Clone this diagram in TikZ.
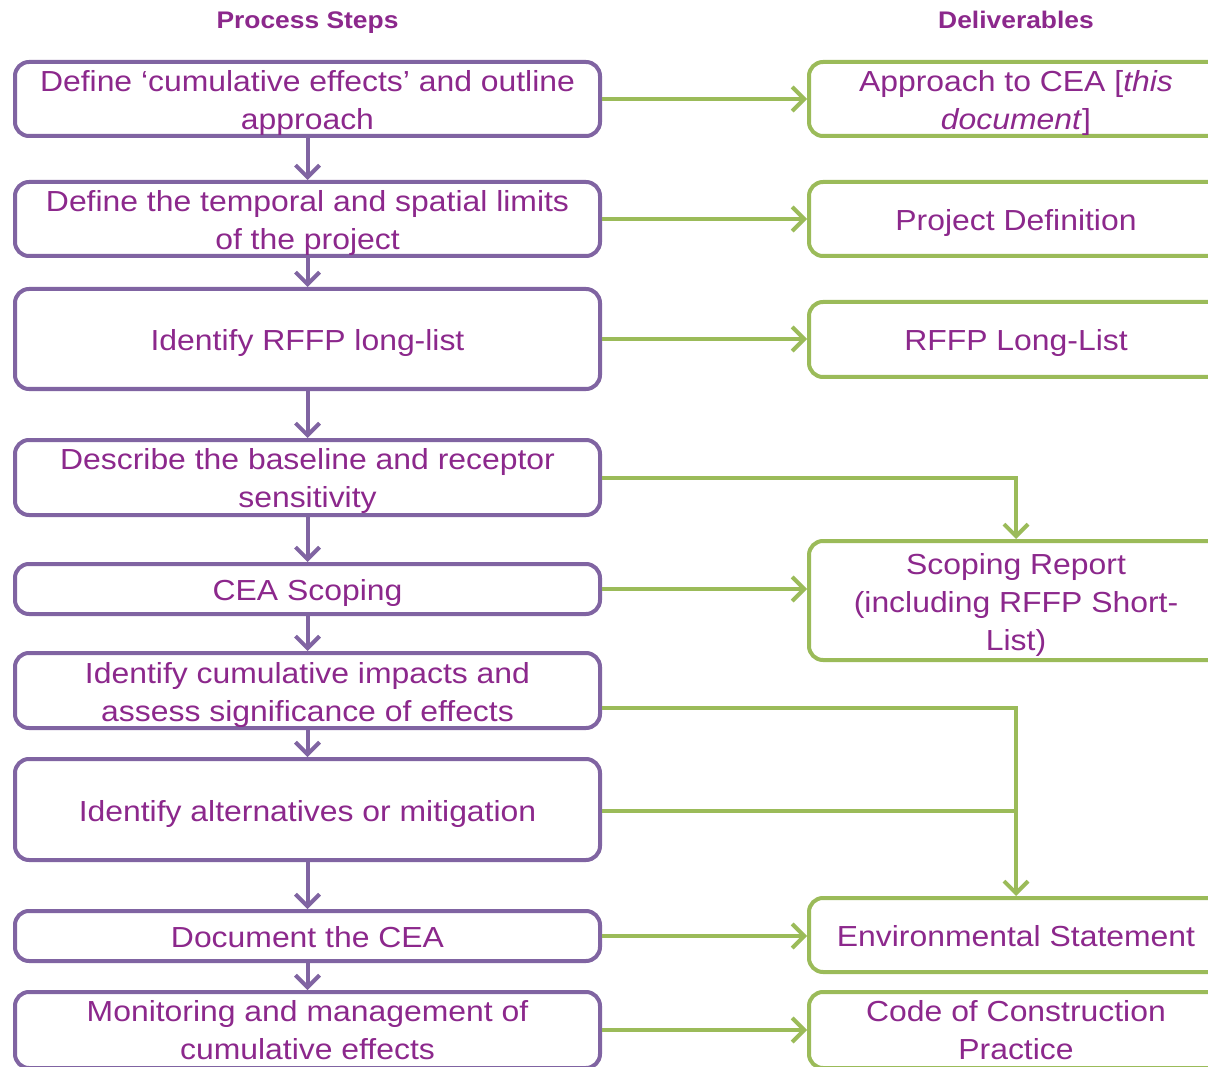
\documentclass[tikz,border=0pt]{standalone}
\usepackage{fontspec}
\setmainfont{Liberation Sans}[FakeStretch=1.1]
\usetikzlibrary{arrows.meta}
\definecolor{ptxt}{HTML}{8C288C}
\definecolor{pbox}{HTML}{8064A2}
\definecolor{gbox}{HTML}{9BBB59}
\begin{document}
\begin{tikzpicture}[x=1pt,y=-1pt,
 stepbox/.style={draw=pbox, line width=4pt, rounded corners=14pt, fill=white, minimum width=585pt, inner sep=0pt},
 delbox/.style={draw=gbox, line width=4pt, rounded corners=14pt, fill=white, minimum width=414pt, inner sep=0pt},
 btext/.style={text=ptxt, align=center, font=\fontsize{29}{38}\selectfont, inner sep=0pt, yshift=-4pt},
 parrow/.style={draw=pbox, line width=4pt, -{Straight Barb[length=12pt,width=24pt]}},
 garrow/.style={draw=gbox, line width=4pt, -{Straight Barb[length=12pt,width=24pt]}},
 gline/.style={draw=gbox, line width=4pt},
 head/.style={text=ptxt, font=\fontsize{24}{28}\selectfont\bfseries, anchor=base}]
\useasboundingbox (0,0) rectangle (1208,1067);
\fill[white] (0,0) rectangle (1208,1067);
\clip (0,0) rectangle (1208,1067);

\node[head] (h1) at (307.5,29) {Process Steps};
\node[head] (h2) at (1016,29) {Deliverables};

\node[stepbox, minimum height=74pt] (b1) at (307.5,99) {};
\node[stepbox, minimum height=74pt] (b2) at (307.5,219) {};
\node[stepbox, minimum height=100pt] (b3) at (307.5,339) {};
\node[stepbox, minimum height=75pt] (b4) at (307.5,477.5) {};
\node[stepbox, minimum height=50pt] (b5) at (307.5,589) {};
\node[stepbox, minimum height=75pt] (b6) at (307.5,690.5) {};
\node[stepbox, minimum height=101pt] (b7) at (307.5,809.5) {};
\node[stepbox, minimum height=50pt] (b8) at (307.5,936) {};
\node[stepbox, minimum height=76pt] (b9) at (307.5,1030) {};

\node[delbox, minimum height=74pt] (r1) at (1016,99) {};
\node[delbox, minimum height=74pt] (r2) at (1016,219) {};
\node[delbox, minimum height=75pt] (r3) at (1016,339.5) {};
\node[delbox, minimum height=119pt] (r4) at (1016,600.5) {};
\node[delbox, minimum height=74pt] (r5) at (1016,935) {};
\node[delbox, minimum height=76pt] (r6) at (1016,1030) {};

\node[btext] (tb1) at (b1.center) {Define ‘cumulative effects’ and outline\\approach};
\node[btext] (tb2) at (b2.center) {Define the temporal and spatial limits\\of the project};
\node[btext] (tb3) at (b3.center) {Identify RFFP long-list};
\node[btext] (tb4) at (b4.center) {Describe the baseline and receptor\\sensitivity};
\node[btext] (tb5) at (b5.center) {CEA Scoping};
\node[btext] (tb6) at (b6.center) {Identify cumulative impacts and\\assess significance of effects};
\node[btext] (tb7) at (b7.center) {Identify alternatives or mitigation};
\node[btext, yshift=3pt] (tb8) at (b8.center) {Document the CEA};
\node[btext, yshift=4pt] (tb9) at (b9.center) {Monitoring and management of\\cumulative effects};

\node[btext] (tr1) at (r1.center) {Approach to CEA [\textit{this}\\\textit{document}]};
\node[btext] (tr2) at (r2.center) {Project Definition};
\node[btext] (tr3) at (r3.center) {RFFP Long-List};
\node[btext] (tr4) at (r4.center) {Scoping Report\\(including RFFP Short-\\List)};
\node[btext, yshift=3pt] (tr5) at (r5.center) {Environmental Statement};
\node[btext, yshift=4pt] (tr6) at (r6.center) {Code of Construction\\Practice};

\draw[parrow] (b1.south) -- (b2.north);
\draw[parrow] (b2.south) -- (b3.north);
\draw[parrow] (b3.south) -- (b4.north);
\draw[parrow] (b4.south) -- (b5.north);
\draw[parrow] (b5.south) -- (b6.north);
\draw[parrow] (b6.south) -- (b7.north);
\draw[parrow] (b7.south) -- (b8.north);
\draw[parrow] (b8.south) -- (b9.north);

\draw[garrow] (b1.east) -- (r1.west);
\draw[garrow] (b2.east) -- (r2.west);
\draw[garrow] (b3.east) -- (b3.east -| r3.west);
\draw[garrow] (b4.east) -| (r4.north);
\draw[garrow] (b5.east) -- (b5.east -| r4.west);
\draw[garrow] ([yshift=-17pt]b6.east) -| (r5.north);
\draw[gline] ([yshift=-1pt]b7.east) -- ([yshift=-1pt]b7.east -| r5.north);
\draw[garrow] (b8.east) -- (b8.east -| r5.west);
\draw[garrow] (b9.east) -- (b9.east -| r6.west);
\end{tikzpicture}
\end{document}
